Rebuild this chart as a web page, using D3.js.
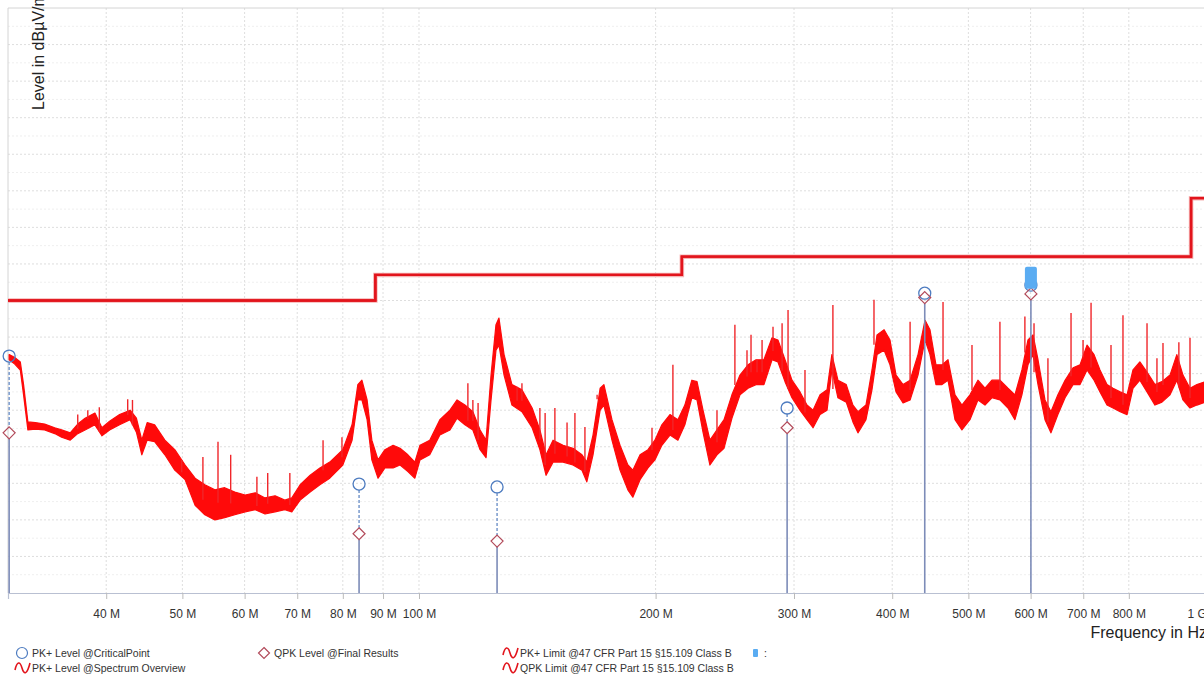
<!DOCTYPE html>
<html>
<head>
<meta charset="utf-8">
<script src="https://cdn.jsdelivr.net/npm/d3@7"></script>
<style>
  body { margin: 0; background: #fff; overflow: hidden; }
  svg { display: block; font-family: 'Liberation Sans', Arial, sans-serif; }
</style>
</head>
<body>
<div id="chart"></div>
<script>
/* global d3 */

const SPECTRUM_MHZ = [
  30.1, 30.6, 31.1, 31.4, 31.8, 32.5, 33.4, 34.4, 35.1, 36.0,
  36.8, 37.6, 38.7, 39.5, 40.4, 41.6, 42.9, 43.7, 44.4, 45.1,
  46.1, 47.5, 48.9, 50.4, 51.9, 53.4, 55.0, 56.6, 58.3, 60.1,
  61.9, 63.7, 65.6, 67.5, 68.9, 70.6, 72.7, 74.8, 77.0, 80.0,
  82.2, 83.6, 84.6, 85.9, 87.1, 88.7, 90.5, 92.7, 94.6, 96.8,
  98.8, 100.3, 103.2, 106.3, 109.5, 111.8, 114.4, 117.1, 119.6, 121.7,
  123.5, 125.3, 126.4, 128.3, 131.3, 135.2, 139.3, 142.5, 145.1, 148.1,
  152.5, 157.0, 161.2, 163.5, 166.5, 170.0, 171.9, 176.0, 180.2, 184.4,
  187.1, 191.1, 195.6, 199.6, 203.7, 208.6, 213.5, 217.9, 222.4, 225.8,
  229.8, 234.5, 239.4, 244.4, 250.1, 256.1, 262.2, 268.4, 274.7, 281.3,
  286.2, 292.2, 298.2, 305.3, 311.6, 317.2, 323.8, 330.5, 335.2, 341.2,
  349.6, 356.5, 361.8, 370.4, 377.0, 382.6, 390.6, 397.4, 404.5, 412.9,
  421.5, 431.4, 440.4, 446.8, 454.7, 462.8, 471.0, 480.8, 490.6, 502.3,
  514.2, 524.9, 535.7, 548.4, 561.5, 573.0, 584.9, 595.4, 604.2, 613.1,
  625.8, 636.8, 649.9, 663.7, 679.4, 693.4, 707.8, 722.5, 735.2, 750.4,
  763.8, 779.9, 795.8, 809.8, 826.3, 843.8, 863.7, 881.5, 902.6, 920.8,
  937.5, 957.0, 976.6, 1000
]
const SPECTRUM_HIGH = [
  32.6, 32.2, 31.6, 28.5, 23.4, 23.3, 23.1, 22.6, 22.3, 21.9,
  23.1, 23.9, 24.6, 22.6, 23.5, 24.4, 25.0, 23.9, 20.9, 23.3,
  23.0, 20.9, 19.6, 17.5, 15.7, 14.8, 14.1, 14.4, 13.8, 13.4,
  13.7, 13.0, 13.3, 12.7, 13.0, 14.8, 16.1, 17.1, 17.9, 19.6,
  23.0, 28.5, 29.1, 26.4, 20.9, 18.2, 19.6, 20.2, 19.8, 18.9,
  17.9, 20.2, 20.9, 23.7, 25.0, 26.4, 25.7, 24.8, 22.3, 20.9,
  29.8, 36.7, 37.6, 32.6, 28.5, 27.8, 25.3, 22.3, 18.9, 20.9,
  20.2, 19.8, 18.9, 17.9, 21.6, 28.0, 28.5, 23.7, 20.2, 17.5,
  16.8, 18.9, 19.6, 20.9, 23.0, 24.4, 23.7, 25.7, 29.1, 28.9,
  25.0, 20.9, 22.3, 23.7, 27.1, 29.8, 31.2, 31.9, 31.9, 34.9,
  34.6, 31.9, 29.1, 27.5, 25.7, 25.0, 27.1, 27.8, 32.6, 29.1,
  28.5, 25.7, 24.8, 25.7, 30.5, 35.3, 36.0, 34.6, 29.8, 28.5,
  29.1, 32.6, 37.3, 36.0, 31.2, 31.2, 31.9, 27.1, 25.7, 27.1,
  29.1, 28.0, 29.1, 29.1, 28.0, 27.1, 30.5, 34.6, 35.3, 31.9,
  26.4, 24.8, 27.1, 29.1, 30.8, 31.2, 33.9, 32.6, 30.5, 28.5,
  28.0, 27.5, 27.1, 30.5, 31.6, 30.2, 28.5, 28.9, 29.8, 32.6,
  29.8, 28.0, 28.5, 28.9
]
const SPECTRUM_LOW = [
  31.9, 31.3, 30.5, 27.1, 22.3, 22.4, 22.3, 21.8, 21.3, 20.9,
  21.8, 22.3, 23.0, 21.5, 22.3, 23.0, 23.7, 22.0, 18.9, 20.9,
  20.7, 18.9, 16.8, 15.5, 12.0, 10.7, 10.0, 10.3, 10.7, 11.1,
  11.4, 10.8, 11.1, 11.4, 11.1, 12.7, 13.8, 14.8, 15.7, 17.5,
  20.9, 26.4, 26.4, 23.7, 18.2, 15.7, 17.1, 17.1, 17.5, 16.6,
  15.7, 18.2, 18.9, 21.6, 22.3, 23.9, 23.0, 22.3, 19.6, 18.5,
  26.4, 33.2, 33.9, 29.8, 25.7, 24.8, 22.6, 19.6, 16.1, 17.9,
  17.9, 17.5, 16.8, 15.2, 18.9, 25.0, 25.7, 20.9, 16.8, 14.1,
  13.1, 15.5, 17.1, 18.2, 20.2, 21.6, 20.9, 23.0, 26.7, 26.4,
  22.0, 17.5, 18.9, 19.8, 23.9, 27.1, 28.0, 28.5, 28.5, 31.9,
  31.6, 28.9, 26.7, 25.0, 23.7, 22.6, 24.4, 25.0, 30.5, 26.7,
  26.1, 23.4, 21.9, 23.7, 27.8, 32.6, 33.2, 31.2, 27.5, 26.0,
  26.4, 29.8, 34.6, 32.6, 28.5, 28.5, 29.1, 23.7, 22.3, 23.7,
  26.4, 25.7, 26.7, 26.4, 25.3, 23.7, 27.1, 31.2, 32.6, 28.5,
  23.7, 21.9, 24.4, 26.7, 28.5, 28.5, 30.5, 29.1, 27.5, 25.7,
  25.3, 24.8, 24.4, 28.0, 29.1, 27.5, 25.7, 26.1, 27.1, 29.1,
  26.4, 25.3, 25.7, 26.1
]

// narrow spikes standing out of the band: frequency (MHz) and peak level (dBµV/m)
const SPIKE_MHZ = [
  36.8, 37.9, 39.2, 42.6, 43.2, 49.9, 53.1, 55.5, 57.6, 62.2, 64.2, 68.5,
  75.5, 79.8, 115.4, 117.1, 118.9, 133.3, 135.2, 142.5, 144.7, 148.9, 154.3, 157.9,
  162.6, 168.5, 197.9, 210.4, 239.4, 252.3, 261.4, 264.5, 269.2, 273.2, 282.1, 289.7,
  294.8, 309.8, 336.2, 379.2, 421.5, 464.2, 505.3, 548.4, 590.0, 606.0, 631.2, 675.4,
  699.6, 716.2, 759.3, 786.4, 843.8, 868.7, 884.2, 926.3, 957.0
]
const SPIKE_DB = [
  24.4, 25.0, 25.4, 26.5, 26.4, 18.2, 18.6, 20.7, 18.9, 15.9, 16.4, 16.4,
  20.9, 21.3, 28.7, 26.4, 26.0, 28.2, 28.7, 25.3, 24.6, 25.3, 23.3, 24.6,
  22.7, 27.1, 22.6, 31.2, 25.0, 36.7, 33.2, 35.3, 31.9, 34.6, 36.4, 36.9,
  38.7, 30.5, 39.4, 40.1, 37.1, 39.8, 33.9, 37.1, 37.8, 36.9, 32.1, 38.3,
  34.6, 39.7, 33.9, 38.0, 36.9, 32.1, 34.2, 34.3, 34.9
]

// 47 CFR Part 15 §15.109 Class B limit (PK+ and QPK share the same steps here)
const LIMIT_MHZ = [30, 88, 88, 216, 216, 960, 960, 1000]
const LIMIT_DB = [40, 40, 43.5, 43.5, 46, 46, 54, 54]

// critical points (PK+) and final results (QPK)
const CRITICAL_MHZ = [30.1, 83.9, 125.7, 294.0, 440.0, 600.5]
const CRITICAL_PK = [32.4, 14.9, 14.5, 25.3, 41.0, 42.1]
const FINAL_QPK = [21.9, 8.1, 7.1, 22.6, 40.4, 40.9]

// the blue marker sitting on the 600 MHz result
const MARKER_MHZ = 600.5
const MARKER_DB = [44.6, 41.6]

const X_TICKS = [40, 50, 60, 70, 80, 90, 100, 200, 300, 400, 500, 600, 700, 800, 1000]
const X_TICK_LABELS = ['40 M', '50 M', '60 M', '70 M', '80 M', '90 M', '100 M', '200 M', '300 M',
  '400 M', '500 M', '600 M', '700 M', '800 M', '1 G']
const Y_MAJOR = d3.range(5, 80, 5)
const Y_MINOR = d3.range(2.5, 80, 5)

const LEGEND_ITEMS = [
  { icon: 'circle', label: 'PK+ Level @CriticalPoint', col: 0, row: 0 },
  { icon: 'wave', label: 'PK+ Level @Spectrum Overview', col: 0, row: 1 },
  { icon: 'diamond', label: 'QPK Level @Final Results', col: 1, row: 0 },
  { icon: 'wave', label: 'PK+ Limit @47 CFR Part 15 §15.109 Class B', col: 2, row: 0 },
  { icon: 'wave', label: 'QPK Limit @47 CFR Part 15 §15.109 Class B', col: 2, row: 1 },
  { icon: 'marker', label: ':', col: 3, row: 0 }
]

const STYLE = {
  width: 1204,
  height: 678,
  plot: { left: 8, right: 1205, top: 8, bottom: 593 },
  trace: '#ff0a0a',
  limit: '#e2141c',
  stem: '#7d8cb8',
  circle: '#4e7cc0',
  diamond: '#b24a5a',
  marker: '#5aacf2',
  grid: '#dedede',
  gridMinor: '#efefef',
  text: '#333'
}

function drawChart (config = STYLE) {
  const { width, height, plot } = config

  const svg = d3.select('#chart')
    .append('svg')
    .attr('width', width)
    .attr('height', height)

  const x = d3.scaleLog().domain([30, 1000]).range([plot.left, plot.right])
  const y = d3.scaleLinear().domain([0, 80]).range([plot.bottom, plot.top])

  svg.append('clipPath').attr('id', 'plot-clip')
    .append('rect')
    .attr('x', plot.left).attr('y', plot.top)
    .attr('width', plot.right - plot.left).attr('height', plot.bottom - plot.top)

  // grid
  const grid = svg.append('g')
  grid.selectAll('.hminor').data(Y_MINOR).join('line')
    .attr('x1', plot.left).attr('x2', plot.right)
    .attr('y1', d => y(d)).attr('y2', d => y(d))
    .attr('stroke', config.gridMinor).attr('stroke-dasharray', '2,2')
  grid.selectAll('.hmajor').data(Y_MAJOR).join('line')
    .attr('x1', plot.left).attr('x2', plot.right)
    .attr('y1', d => y(d)).attr('y2', d => y(d))
    .attr('stroke', config.grid).attr('stroke-dasharray', '2,2')
  grid.selectAll('.vgrid').data(X_TICKS.slice(0, -1)).join('line')
    .attr('x1', d => x(d)).attr('x2', d => x(d))
    .attr('y1', plot.top).attr('y2', plot.bottom)
    .attr('stroke', config.grid).attr('stroke-dasharray', '2,2')

  // frame: top and left border
  svg.append('path')
    .attr('d', `M${plot.left},${plot.bottom}V${plot.top}H${width}`)
    .attr('fill', 'none').attr('stroke', '#d4d4d4')

  const body = svg.append('g').attr('clip-path', 'url(#plot-clip)')

  // limit lines (drawn twice, PK+ and QPK overlap)
  const limitData = d3.zip(LIMIT_MHZ, LIMIT_DB)
  const limitLine = d3.line().x(d => x(d[0])).y(d => y(d[1]))
  body.append('path').datum(limitData)
    .attr('d', limitLine).attr('fill', 'none')
    .attr('stroke', '#f6b4b4').attr('stroke-width', 4.5)
  ;[0, 1].forEach(() => {
    body.append('path').datum(limitData)
      .attr('d', limitLine).attr('fill', 'none')
      .attr('stroke', config.limit).attr('stroke-width', 2.4)
  })

  // spectrum band
  const band = SPECTRUM_MHZ.map((f, i) => ({ f, hi: SPECTRUM_HIGH[i], lo: SPECTRUM_LOW[i] }))
  body.append('path').datum(band)
    .attr('d', d3.area().x(d => x(d.f)).y0(d => y(d.lo)).y1(d => y(d.hi)))
    .attr('fill', config.trace)
    .attr('stroke', config.trace)
    .attr('stroke-width', 1.2)
    .attr('stroke-linejoin', 'round')

  // spikes rise from the middle of the band
  const bisect = d3.bisector(d => d.f).left
  const spikes = SPIKE_MHZ.map((f, i) => {
    const j = Math.min(band.length - 1, bisect(band, f))
    return { f, peak: SPIKE_DB[i], base: (band[j].hi + band[j].lo) / 2 }
  })
  body.selectAll('.spike').data(spikes).join('line')
    .attr('x1', d => x(d.f)).attr('x2', d => x(d.f))
    .attr('y1', d => y(d.base)).attr('y2', d => y(d.peak))
    .attr('stroke', '#f0262a').attr('stroke-width', 1.4)

  // critical points and final results
  const points = CRITICAL_MHZ.map((f, i) => ({ f, pk: CRITICAL_PK[i], qpk: FINAL_QPK[i] }))
  const marks = svg.append('g')
  marks.selectAll('.stem').data(points).join('line')
    .attr('x1', d => x(d.f)).attr('x2', d => x(d.f))
    .attr('y1', d => y(d.qpk) + 6).attr('y2', plot.bottom)
    .attr('stroke', config.stem).attr('stroke-width', 1.6)
  marks.selectAll('.dash').data(points.filter(d => y(d.qpk) - y(d.pk) > 12)).join('line')
    .attr('x1', d => x(d.f)).attr('x2', d => x(d.f))
    .attr('y1', d => y(d.pk) + 6).attr('y2', d => y(d.qpk) - 6)
    .attr('stroke', '#6f92c9').attr('stroke-width', 1.4)
    .attr('stroke-dasharray', '3,2')
  marks.selectAll('.crit').data(points).join('circle')
    .attr('cx', d => x(d.f)).attr('cy', d => y(d.pk)).attr('r', 6)
    .attr('fill', 'none').attr('stroke', config.circle).attr('stroke-width', 1.3)
  marks.selectAll('.final').data(points).join('path')
    .attr('transform', d => `translate(${x(d.f)},${y(d.qpk)})`)
    .attr('d', 'M0,-6L6,0L0,6L-6,0Z')
    .attr('fill', 'none').attr('stroke', config.diamond).attr('stroke-width', 1.2)

  marks.append('rect')
    .attr('x', x(MARKER_MHZ) - 6).attr('y', y(MARKER_DB[0]))
    .attr('width', 12).attr('height', y(MARKER_DB[1]) - y(MARKER_DB[0]))
    .attr('rx', 2)
    .attr('fill', config.marker)

  // x axis
  const xAxis = svg.append('g')
    .attr('transform', `translate(0,${plot.bottom})`)
    .call(d3.axisBottom(x).tickValues(X_TICKS).tickFormat((d, i) => X_TICK_LABELS[i]).tickSize(6).tickPadding(10))
  xAxis.select('.domain').attr('stroke', '#b9c0d2').attr('stroke-width', 1.2)
  xAxis.selectAll('.tick line').attr('stroke', '#bbb')
  xAxis.selectAll('.tick text')
    .attr('fill', config.text)
    .style('font-size', '12px')
    .style('font-family', "'Liberation Sans', Arial, sans-serif")
  xAxis.selectAll('.tick').filter(d => d === 1000).select('text')
    .attr('text-anchor', 'start').attr('dx', -18)

  svg.append('text')
    .attr('x', 1207).attr('y', 638)
    .attr('text-anchor', 'end')
    .style('font-size', '16px')
    .attr('fill', '#222')
    .text('Frequency in Hz')

  svg.append('text')
    .attr('transform', 'translate(44,110) rotate(-90)')
    .style('font-size', '16px')
    .attr('fill', '#222')
    .text('Level in dBµV/m')

  drawLegend(svg, config)
}

function drawLegend (svg, config) {
  const colX = [14, 256, 502, 750]
  const rowY = [653, 668]
  const legend = svg.append('g').style('font-size', '10.5px')

  LEGEND_ITEMS.forEach(item => {
    const gx = colX[item.col]
    const gy = rowY[item.row]
    const g = legend.append('g').attr('transform', `translate(${gx},${gy})`)
    if (item.icon === 'circle') {
      g.append('circle').attr('cx', 8).attr('cy', 0).attr('r', 5.5)
        .attr('fill', 'none').attr('stroke', config.circle).attr('stroke-width', 1.2)
    } else if (item.icon === 'diamond') {
      g.append('path').attr('d', 'M8,-5.5L13.5,0L8,5.5L2.5,0Z')
        .attr('fill', 'none').attr('stroke', config.diamond).attr('stroke-width', 1.2)
    } else if (item.icon === 'wave') {
      g.append('path').attr('d', 'M1,2C3,-7 6,-7 8,0S13,7 16,-5')
        .attr('fill', 'none').attr('stroke', config.limit).attr('stroke-width', 1.6)
    } else {
      g.append('rect').attr('x', 3).attr('y', -4).attr('width', 5).attr('height', 8).attr('rx', 1)
        .attr('fill', config.marker)
    }
    g.append('text')
      .attr('x', item.icon === 'marker' ? 14 : 18)
      .attr('y', 4)
      .attr('fill', config.text)
      .text(item.label)
  })
}

window.addEventListener('DOMContentLoaded', () => {
  drawChart()
})
</script>
</body>
</html>
